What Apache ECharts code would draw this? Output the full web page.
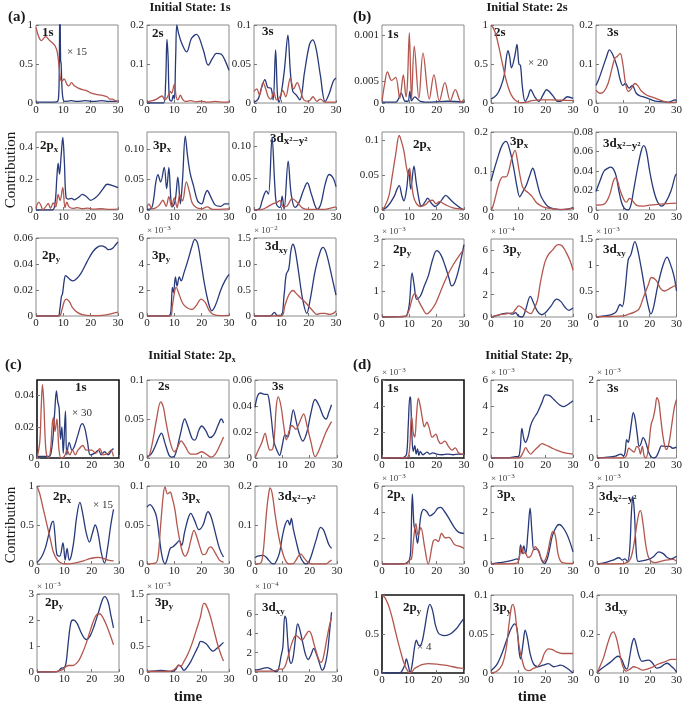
<!DOCTYPE html>
<html><head><meta charset="utf-8">
<script src="https://cdn.jsdelivr.net/npm/echarts@6/dist/echarts.min.js"></script>
<style>html,body{margin:0;padding:0;background:#fff}#c{width:685px;height:704px}</style>
</head><body><div id="c"></div><script>
// ---------------- DATA: [time, contribution] pairs ----------------
// Panel (a) Initial State: 1s
const a1_blue=[[0,0.01],[5,0.01],[7.5,0.015],[8.2,0.05],[8.5,0.4],[8.75,1.4],[9.0,0.55],[9.2,0.5],[9.5,0.2],[9.9,0.05],[10.5,0.02],[13,0.03],[15,0.02],[18,0.03],[21,0.02],[24,0.03],[27,0.02],[30,0.02]];
const a1_red=[[0,0.97],[1,0.85],[2,0.8],[3.5,0.85],[5,0.8],[6,0.77],[7,0.73],[7.8,0.65],[8.5,0.45],[9,0.3],[9.5,0.28],[10.3,0.31],[11.3,0.24],[12,0.22],[13,0.26],[14,0.22],[15.5,0.19],[17,0.17],[18.5,0.16],[20,0.13],[22,0.11],[24,0.1],[26,0.08],[27,0.05],[28,0.05],[29,0.03],[30,0.02]];
const a2_blue=[[0,0],[6,0],[6.8,0.05],[7.3,0.163],[7.7,0.12],[8.2,0.01],[9,0.005],[9.6,0.02],[10,0.01],[10.5,0.12],[10.9,0.2],[11.5,0.18],[12.7,0.153],[14.5,0.131],[16.3,0.166],[18.1,0.176],[20.6,0.136],[22.4,0.097],[24,0.115],[25.4,0.127],[27.2,0.125],[28.5,0.11],[30,0.084]];
const a2_red=[[0,0.003],[2,0.006],[3.5,0.01],[5.5,0.018],[6.5,0.008],[7.5,0.015],[8.5,0.03],[9,0.025],[10,0.048],[10.7,0.015],[11.3,0.008],[12.2,0.02],[13,0.01],[14,0.004],[16,0.006],[18,0.003],[20,0.005],[22,0.002],[25,0.004],[28,0.002],[30,0.003]];
const a3_blue=[[0,0.001],[1.5,0.005],[2.8,0.02],[4,0.03],[5,0.02],[6.2,0.019],[7,0.004],[7.9,0.068],[8.6,0.01],[9.2,0.001],[10.3,0.02],[11.2,0.045],[12.4,0.087],[13.3,0.04],[14.2,0.015],[15.5,0.01],[16.8,0.004],[18.5,0.04],[20.3,0.075],[21.5,0.081],[22.7,0.07],[24.3,0.035],[26,0.002],[27.5,0.012],[29,0.028],[30,0.032]];
const a3_red=[[0,0.015],[1,0.018],[2,0.01],[3.3,0.026],[4.3,0.018],[5.2,0.008],[6.2,0.005],[7.2,0.014],[8.3,0.004],[9.5,0.008],[10.5,0.016],[11.6,0.008],[13.3,0.032],[14.5,0.018],[15.8,0.026],[17,0.016],[18.2,0.004],[20,0.002],[21.6,0.008],[23,0.002],[24.3,0.005],[26,0.001],[30,0.001]];
const a4_blue=[[0,0],[6,0],[7,0.05],[7.6,0.2],[8.1,0.3],[8.6,0.23],[9.2,0.35],[9.8,0.465],[10.4,0.3],[11,0.08],[12,0.07],[13,0.075],[14,0.065],[15.5,0.08],[17,0.1],[18.5,0.085],[20,0.062],[21.5,0.075],[23,0.1],[24.5,0.135],[26,0.165],[27.5,0.16],[30,0.143]];
const a4_red=[[0,0.01],[1,0.05],[1.8,0.03],[2.5,0.002],[3.5,0.02],[4.5,0.042],[5.3,0.01],[6.3,0.045],[7.2,0.02],[8.1,0.1],[8.8,0.06],[9.8,0.145],[10.6,0.015],[11.3,0.05],[12.1,0.02],[13.5,0.01],[15,0.015],[17,0.008],[19,0.012],[21,0.005],[24,0.008],[27,0.004],[30,0.006]];
const a5_blue=[[0,0.001],[1.5,0.002],[2.5,0.02],[3.2,0.045],[4,0.058],[5,0.046],[6.3,0.07],[7.2,0.035],[8,0.07],[8.7,0.02],[9.3,0.005],[10.3,0.015],[11.3,0.054],[12.2,0.01],[13,0.05],[14,0.121],[14.8,0.09],[15.8,0.06],[17,0.04],[18.5,0.015],[20,0.01],[21.2,0.025],[22,0.032],[23.5,0.02],[25,0.008],[27,0.006],[28.5,0.01],[30,0.01]];
const a5_red=[[0,0.005],[0.7,0.01],[1.8,0.002],[3,0.003],[4.5,0.008],[5.8,0.016],[7,0.006],[8,0.022],[9,0.005],[10,0.02],[11,0.004],[12,0.025],[13,0.015],[14.4,0.046],[15.5,0.03],[16.5,0.012],[18,0.004],[20,0.002],[22,0.005],[24,0.001],[30,0.002]];
const a6_blue=[[0,0],[2,0.002],[3,0.015],[4.5,0.03],[5.3,0.025],[6.6,0.115],[7.6,0.04],[8.3,0.008],[9.5,0.004],[10.3,0.022],[11,0.001],[12.5,0.077],[13.6,0.025],[15,0.004],[16.5,0.012],[18,0.03],[19.5,0.043],[21,0.025],[23.2,0.001],[24.5,0.01],[26,0.04],[27.5,0.056],[29,0.05],[30,0.037]];
const a6_red=[[0,0],[3,0.001],[5,0.005],[7,0.01],[8.5,0.012],[9.5,0.015],[10.7,0.005],[12,0.006],[14,0.018],[15.8,0.012],[17.8,0.003],[20,0.001],[26,0.001],[28,0.003],[30,0.005]];
const a7_blue=[[0,0],[8,0],[8.7,0.005],[9.3,0.015],[9.7,0.017],[10.3,0.027],[10.8,0.031],[11.5,0.03],[12.5,0.028],[13.5,0.027],[15,0.029],[16.5,0.033],[18,0.039],[19.5,0.045],[21,0.05],[22.5,0.053],[23.8,0.054],[25.3,0.053],[26.5,0.051],[28,0.052],[29.2,0.055],[30,0.057]];
const a7_red=[[0,0],[8.5,0],[9.5,0.005],[10.3,0.011],[11.1,0.013],[12.2,0.011],[13.5,0.006],[15,0.003],[17,0.001],[20,0.0003],[23,0.0003],[26,0.001],[28,0.002],[30,0.003]];
const a8_blue=[[0,0],[8,0],[8.7,0.3],[9.3,2.2],[9.7,1.8],[10.4,3.0],[11,2.3],[11.8,3.0],[12.5,2.7],[13.5,3.3],[15,4.3],[16.5,5.4],[17.5,5.9],[18.5,5.6],[19.7,4.2],[21,2.5],[22.5,1.0],[23.7,0.4],[25,0.8],[27,2.0],[28.5,2.7],[30,3.2]];
const a8_red=[[0,0],[8.5,0],[9.3,0.8],[10.2,2.0],[10.7,2.2],[11.5,1.8],[13,1.0],[14.5,0.65],[16.5,0.5],[18,0.8],[19.8,1.3],[21.3,1.05],[22.8,0.4],[24.5,0.1],[27,0.03],[30,0.05]];
const a9_blue=[[0,0],[6,0],[7.5,0.07],[8.5,0.01],[10,0.01],[11,0.4],[11.8,0.8],[12.7,0.9],[13.5,1.25],[14.2,1.38],[15,1.28],[16.3,0.85],[17.7,0.35],[19.3,0.05],[20.5,0.3],[22.5,0.9],[24.3,1.25],[25.3,1.32],[26.5,1.2],[28.3,0.8],[30,0.4]];
const a9_red=[[0,0],[10,0],[11.3,0.2],[12.5,0.38],[13.5,0.47],[14.3,0.49],[15.5,0.43],[17,0.35],[18.5,0.28],[20,0.19],[21.5,0.1],[23,0.03],[24.5,0.05],[26,0.05],[27.5,0.03],[29,0.05],[30,0.1]];
// Panel (b) Initial State: 2s
const b1_blue=[[0,0.0002],[5,0.0002],[6,0.0009],[7,0.0023],[8.5,0.0004],[9.5,0.0004],[10.2,0.0027],[10.8,0.0005],[12,0.0014],[14,0.0004],[18,0.0002],[24,0.0004],[30,0.0002]];
const b1_red=[[0,0.0005],[1,0.0045],[2,0.0072],[3.5,0.0052],[5,0.0059],[6.5,0.0011],[7.8,0.0065],[8.8,0.0014],[9.3,0.0045],[10,0.0162],[10.8,0.0009],[11.8,0.0131],[13.5,0.0011],[15,0.0115],[17.3,0.0009],[19,0.0065],[21,0.0005],[23,0.0047],[25,0.0005],[26.8,0.0031],[29,0.0002],[30,0.0009]];
const b2_blue=[[0,0.05],[2,0.1],[3.5,0.2],[4.8,0.35],[5.5,0.55],[6.2,0.67],[6.8,0.6],[7.5,0.45],[8.7,0.6],[9.5,0.75],[10.2,0.5],[10.8,0.48],[11.5,0.2],[12.5,0.02],[13.5,0.08],[14.5,0.17],[16,0.08],[17.5,0.02],[19,0.1],[20.3,0.17],[22.5,0.1],[24.5,0.02],[26,0.03],[28,0.08],[30,0.06]];
const b2_red=[[0,1],[1,0.95],[2,0.85],[3,0.7],[4.2,0.5],[5.5,0.3],[6.8,0.15],[8,0.07],[9.5,0.02],[11,0.003],[13,0.01],[15,0.03],[18,0.04],[22,0.04],[26,0.035],[30,0.03]];
const b3_blue=[[0,0.045],[1,0.06],[2.5,0.09],[4,0.12],[5,0.136],[6.5,0.12],[8,0.09],[9,0.06],[10,0.045],[11,0.05],[12.3,0.038],[13.5,0.045],[15,0.025],[16.5,0.018],[18,0.015],[20,0.01],[22,0.005],[25,0.003],[27,0.002],[29.5,0.008],[30,0.005]];
const b3_red=[[0,0.033],[1.5,0.025],[3,0.03],[4.5,0.05],[6,0.09],[7,0.114],[8,0.12],[9,0.127],[10,0.1],[11,0.05],[12,0.03],[13,0.035],[14.5,0.05],[15.5,0.045],[17,0.03],[19,0.02],[21,0.015],[23,0.01],[25,0.005],[27,0.001],[30,0.002]];
const b4_blue=[[0,0],[2,0.005],[4.5,0.02],[5.5,0.03],[6.3,0.035],[7.3,0.02],[8,0.013],[9,0.03],[9.8,0.058],[10.5,0.03],[11.7,0.063],[12.5,0.04],[13.8,0.01],[14.5,0.006],[15.8,0.012],[16.7,0.017],[18,0.01],[19.5,0.005],[21,0.01],[22.5,0.018],[23.3,0.021],[25,0.015],[27,0.008],[29,0.002],[30,0]];
const b4_red=[[0,0],[1,0.005],[2.5,0.02],[3.8,0.05],[5,0.08],[6.3,0.107],[7,0.1],[8,0.085],[9,0.06],[9.7,0.05],[10.1,0.06],[10.6,0.045],[11.5,0.02],[12.5,0.01],[14,0.005],[16,0.008],[17,0.012],[18.5,0.014],[19.8,0.009],[21,0.012],[23,0.008],[26,0.003],[30,0.001]];
const b5_blue=[[0,0.074],[1,0.1],[2.5,0.135],[4,0.165],[5.5,0.176],[7,0.15],[8.5,0.1],[9.5,0.06],[10.5,0.034],[11.5,0.045],[13,0.065],[14,0.085],[15.3,0.107],[16.5,0.08],[18,0.04],[19.5,0.02],[21,0.008],[23,0.003],[26,0.001],[28,0.002],[30,0.006]];
const b5_red=[[0,0],[0.5,0.005],[1.5,0.03],[3,0.07],[4.3,0.085],[5.5,0.085],[6.5,0.1],[7.5,0.13],[8.8,0.153],[9.6,0.13],[10.3,0.1],[11.5,0.06],[12.6,0.05],[13.5,0.045],[15,0.035],[16.5,0.02],[18,0.012],[20,0.006],[23,0.003],[25,0.001],[28,0.002],[30,0.005]];
const b6_blue=[[0,0.019],[1.5,0.03],[3,0.04],[4.5,0.043],[5.5,0.044],[6.5,0.042],[7.5,0.035],[8.5,0.02],[9.5,0.008],[10.5,0.002],[12,0],[13,0.005],[14,0.02],[15.3,0.04],[16.8,0.06],[17.8,0.066],[18.8,0.06],[20,0.04],[21.5,0.02],[23,0.008],[24.5,0.004],[26,0.008],[28,0.02],[29.5,0.035],[30,0.037]];
const b6_red=[[0,0.005],[3,0.006],[5,0.015],[6.5,0.03],[7.3,0.033],[8,0.03],[9,0.02],[10.5,0.01],[11.3,0.008],[12.5,0.012],[13.5,0.01],[15,0.005],[17,0.004],[20,0.005],[24,0.006],[30,0.007]];
const b7_blue=[[0,0],[8,0.02],[9,0.05],[10,0.5],[11,1.7],[11.8,1.2],[12.7,0.68],[14,0.8],[15.5,1.2],[17,1.6],[18.5,2.2],[20,2.55],[21.5,2.4],[23,2.0],[24.5,1.5],[25.5,1.2],[26.5,1.3],[28,1.8],[30,2.78]];
const b7_red=[[0,0],[8,0.02],[9,0.05],[10,0.3],[11.3,0.8],[12,0.9],[13.5,0.6],[15,0.3],[16.3,0.12],[17.5,0.2],[19.5,0.5],[21.5,1.0],[23.5,1.5],[26,2.0],[28.5,2.4],[30,2.6]];
const b8_blue=[[0,0],[3,0.2],[6,0.35],[8,0.25],[9,0.4],[10,0.1],[11.4,0],[12.5,0.5],[14.4,1.85],[15.5,1.3],[17,0.5],[18.5,0.2],[20,0.4],[22,1.0],[24,1.6],[25.5,1.4],[27,0.9],[28.5,0.6],[30,0.8]];
const b8_red=[[0,0],[3,0.2],[6,0.3],[8,0.4],[9,0.7],[10.2,1.0],[11.5,0.8],[13,0.5],[14.5,0.3],[15.5,0.6],[17,1.5],[18,3.0],[19.7,4.9],[21,5.6],[22.5,6.0],[24.5,6.5],[26,6.4],[27.5,5.8],[29,5.0],[30,4.2]];
const b9_blue=[[0,0],[3,0.02],[6,0.05],[7.5,0.1],[9,0.24],[9.8,0.2],[10.8,0.5],[12,1.1],[13,1.2],[14.5,1.45],[15.5,1.3],[17,0.9],[18.5,0.45],[20,0.1],[20.5,0.06],[21.5,0.2],[23,0.6],[25,1.0],[26.5,1.15],[27.5,1.05],[29,0.8],[30,0.5]];
const b9_red=[[0,0],[5,0.01],[10,0.02],[12,0.05],[14.5,0.1],[16,0.15],[17.5,0.35],[19.5,0.62],[20.7,0.76],[22.5,0.7],[24,0.55],[25.5,0.5],[27.5,0.55],[30,0.62]];
// Panel (c) Initial State: 2px
const c1_blue=[[0,0.001],[4.5,0.001],[5.2,0.004],[5.8,0.012],[6.5,0.03],[7.1,0.043],[7.6,0.036],[8.1,0.032],[8.6,0.012],[9.1,0.02],[9.6,0.003],[10.4,0.03],[10.9,0.002],[11.8,0.01],[12.8,0.005],[13.8,0.008],[15,0.015],[16.5,0.022],[17.5,0.019],[18.5,0.01],[19.5,0.002],[21,0.003],[22.5,0.005],[23.5,0.002],[24.7,0.004],[26,0.002],[27.3,0.005],[28,0.006]];
const c1_red=[[0,0],[1,0.01],[1.6,0.035],[2,0.047],[2.5,0.035],[3,0.012],[3.5,0.002],[4.3,0],[5,0.006],[5.6,0.022],[6.1,0.026],[6.6,0.017],[7.3,0.025],[8,0.006],[8.8,0],[10,0.001],[11,0.005],[12,0.002],[13,0.005],[14,0.002],[15,0.005],[16.8,0.008],[18,0.005],[20,0.005],[21.5,0.003],[23,0.006],[24.2,0.002],[26,0.003],[27,0.005],[28,0.001]];
const c2_blue=[[0,0.001],[1.5,0.005],[3,0.015],[4.5,0.028],[5.3,0.032],[6.5,0.02],[8,0.004],[9,0.001],[10,0.002],[11,0.012],[12.3,0.032],[13.8,0.05],[15,0.04],[16.5,0.025],[17.5,0.023],[19,0.036],[20,0.041],[21.5,0.035],[23,0.026],[24.5,0.03],[26,0.042],[27.2,0.05],[28,0.045]];
const c2_red=[[0,0],[1,0.005],[2,0.02],[3.5,0.05],[5,0.072],[6,0.065],[7,0.045],[8.5,0.02],[10,0.008],[11,0.012],[12.5,0.022],[14,0.015],[16,0.005],[18,0.005],[20,0.008],[22,0.004],[23.5,0.001],[25,0.005],[26.5,0.015],[28,0.027]];
const c3_blue=[[0,0.039],[1,0.048],[2,0.05],[3.5,0.049],[4.5,0.049],[5.2,0.044],[6,0.03],[7,0.012],[8,0.006],[9,0.002],[10,0.01],[11,0.018],[12,0.016],[13,0.026],[14,0.037],[15,0.029],[16,0.02],[17.5,0.013],[19,0.02],[20.5,0.035],[22,0.045],[23.5,0.04],[25,0.032],[26,0.03],[27,0.035],[28,0.041]];
const c3_red=[[0,0],[1,0.005],[2.5,0.012],[3.7,0.019],[4.5,0.012],[5.5,0.006],[6.5,0.007],[7.2,0.02],[7.8,0.04],[8.5,0.047],[9.5,0.04],[10.5,0.025],[11.5,0.014],[12.5,0.021],[13.5,0.025],[15,0.022],[16,0.026],[17,0.031],[17.8,0.034],[19,0.025],[20.5,0.012],[22,0.001],[23,0.004],[24.5,0.012],[26,0.02],[28,0.028]];
const c4_blue=[[0,0.02],[1.5,0.08],[3,0.2],[4.3,0.38],[5.3,0.52],[5.9,0.55],[6.5,0.4],[7.3,0.12],[8.3,0.1],[9.5,0.27],[10.3,0.05],[11,0.2],[11.8,0.05],[12.5,0.1],[13.5,0.3],[14.5,0.6],[15.7,0.79],[16.7,0.65],[18,0.4],[19.2,0.28],[20.3,0.4],[21.3,0.5],[22.3,0.4],[23.5,0.15],[24.7,0.01],[25.8,0.2],[27,0.5],[28,0.7]];
const c4_red=[[0,1],[1,0.9],[2,0.75],[3,0.6],[4,0.45],[5,0.3],[6,0.15],[7.5,0.05],[9,0.01],[10.5,0],[12,0.002],[13.5,0.01],[15,0.02],[17,0.04],[19,0.065],[21,0.08],[22.5,0.085],[24,0.075],[26,0.05],[28,0.04]];
const c5_blue=[[0,0.073],[1,0.076],[2.5,0.07],[3.5,0.06],[4.3,0.04],[5.5,0.01],[6.6,0],[7.5,0.008],[8.5,0.02],[9.5,0.022],[10.7,0.026],[11.8,0.03],[12.7,0.024],[13.7,0.04],[15,0.058],[16,0.065],[17.5,0.055],[19,0.044],[20.5,0.05],[22.3,0.067],[23.5,0.06],[25,0.04],[26.5,0.02],[28,0.009]];
const c5_red=[[0,0],[3,0.001],[4,0.008],[5,0.05],[6,0.09],[6.6,0.099],[7.5,0.09],[8.5,0.092],[9.2,0.085],[10.2,0.07],[11,0.05],[12,0.03],[13,0.015],[14,0.01],[15,0.016],[16,0.03],[17.2,0.043],[18.2,0.035],[19.5,0.02],[20.5,0.012],[21.5,0.013],[22.5,0.02],[23.3,0.022],[25,0.014],[26.5,0.005],[28,0.002]];
const c6_blue=[[0,0.016],[1,0.02],[3,0.022],[4,0.018],[5,0.01],[6,0.002],[7,0],[8,0.01],[9,0.03],[10,0.07],[11,0.1],[12,0.112],[12.7,0.1],[13.3,0.117],[14,0.09],[15,0.06],[16.5,0.02],[18,0.002],[19,0],[20,0.01],[21,0.03],[22.5,0.065],[24,0.094],[25,0.088],[26,0.07],[27,0.05],[28,0.04]];
const c6_red=[[0,0],[2,0.002],[2.8,0.02],[3.5,0.07],[4.3,0.14],[5,0.18],[5.5,0.195],[6.3,0.18],[7.3,0.13],[8.3,0.085],[9.3,0.05],[10.5,0.02],[11.5,0.005],[12.5,0],[14,0.001],[15,0.01],[16.7,0.026],[18,0.015],[19.5,0.003],[20.5,0],[26,0],[27,0.005],[28,0.01]];
const c7_blue=[[0,0],[7,0.01],[8,0.05],[8.9,0.15],[10,0.17],[10.7,0.4],[11.5,1.2],[12.4,1.9],[13.2,2.0],[14.5,1.9],[16,1.55],[17.3,1.3],[18.1,1.25],[19.5,1.4],[21,1.8],[22.5,2.3],[24,2.8],[24.8,2.9],[26,2.7],[27,2.2],[28,1.7]];
const c7_red=[[0,0],[7,0.01],[8,0.05],[9.5,0.1],[10.5,0.2],[11.5,0.25],[13,0.25],[15,0.4],[16.5,0.7],[18,1.1],[19.5,1.6],[21,2.05],[22.4,2.24],[23.5,2.2],[25,1.9],[26.5,1.5],[28,1.05]];
const c8_blue=[[0,0.01],[3,0.02],[5,0.03],[7,0.02],[9,0.01],[10.5,0.05],[11.5,0.13],[12.5,0.1],[13.5,0.03],[14.5,0.08],[16,0.2],[17.5,0.36],[18.8,0.5],[19.6,0.59],[21.5,0.55],[23,0.45],[24,0.4],[25.5,0.45],[27,0.52],[28,0.57]];
const c8_red=[[0,0.01],[8,0.01],[9,0.02],[10,0.05],[11,0.1],[11.7,0.13],[12.5,0.12],[13.5,0.2],[15,0.35],[16.5,0.55],[18,0.8],[19.5,1.05],[20.8,1.32],[21.5,1.3],[23,1.1],[24.5,0.8],[26,0.5],[27.3,0.3],[28,0.21]];
const c9_blue=[[0,0.2],[2,0.3],[4.5,0.45],[5.5,0.35],[7,0.1],[8,0.05],[8.7,0.4],[9.5,1.6],[10.2,2.6],[10.9,5.8],[11.4,5.5],[11.9,3.5],[12.5,1.5],[13.2,0.9],[14,1.6],[15,4.0],[15.6,5.0],[16.3,4.5],[17.5,3.0],[18.5,1.8],[19.5,1.3],[20.5,1.8],[21.5,2.45],[22.3,2.0],[23.5,1.0],[24.6,0.2],[25.5,0.6],[26.5,2.0],[27.3,4.2],[28,6.2]];
const c9_red=[[0,0.1],[6,0.1],[8,0.2],[9,0.3],[10,0.3],[11,0.6],[12,1.5],[13.5,3.0],[15,3.8],[16.3,3.5],[17.2,3.3],[18.5,3.8],[19.7,4.25],[20.5,4.0],[21.5,3.0],[22.5,2.0],[23.5,1.2],[24.2,1.0],[25,1.5],[26,3.0],[27,4.5],[28,5.66]];
// Panel (d) Initial State: 2py
const d1_blue=[[0,0],[7,0.02],[8,0.05],[9,0.3],[9.6,2.5],[10.2,4.7],[10.5,4.5],[10.9,2.0],[11.4,0.5],[12,0.95],[12.5,0.3],[13,0.7],[13.5,0.2],[14,0.5],[15,0.25],[16.5,0.45],[17.5,0.3],[18.5,0.4],[20,0.3],[22,0.25],[24,0.3],[26,0.25],[28,0.3],[30,0.28]];
const d1_red=[[0,0],[9,0.02],[10,0.5],[10.6,2.8],[10.9,3.15],[11.4,2.0],[12,1.6],[12.6,3.2],[13.3,4.6],[14,4.0],[14.8,3.0],[15.5,2.4],[16.4,2.75],[17.3,2.3],[18.4,1.6],[19.7,1.83],[20.6,1.35],[21.5,1.1],[23,1.3],[24.3,0.9],[25.6,0.6],[26.8,0.78],[28,0.4],[29,0.3],[30,0.3]];
const d2_blue=[[0,0],[7,0.02],[9,0.1],[10,0.1],[10.7,0.8],[11.3,2.27],[12,1.5],[12.6,1.2],[13.5,1.6],[14.5,2.5],[15.5,3.0],[17,3.5],[18.5,4.2],[20,4.85],[21.5,4.8],[23,4.5],[25,4.1],[26.5,3.95],[28,4.1],[30,4.4]];
const d2_red=[[0,0],[10,0],[10.7,0.05],[11.7,0.4],[12.7,0.8],[13.6,0.5],[14.5,0.3],[15.5,0.5],[17,0.8],[18.7,1.1],[20,1.0],[22,0.8],[24,0.6],[26,0.45],[28,0.35],[30,0.3]];
const d3_blue=[[0,0],[4,0.02],[7,0.05],[9,0.1],[10,0.05],[10.6,0.15],[11.2,0.47],[11.8,0.4],[12.3,0.55],[13,0.9],[13.7,1.16],[14.4,1.0],[15.2,0.6],[15.9,0.3],[16.5,0.35],[17.4,0.52],[18.4,0.4],[19.5,0.15],[20.5,0.03],[21.5,0],[22.5,0.05],[23.5,0.2],[24.3,0.31],[26,0.3],[27.5,0.3],[28.5,0.25],[30,0.28]];
const d3_red=[[0,0],[10,0],[11,0.05],[12,0.25],[13,0.2],[14,0.15],[15,0.3],[15.8,0.25],[16.4,0.1],[17.1,0.3],[17.8,0.05],[18.5,0],[19.5,0.3],[20.4,0.85],[21.3,1.05],[22,1.3],[22.6,1.55],[23.3,1.45],[24,1.05],[24.8,0.6],[25.6,0.3],[26.3,0.22],[27.2,0.4],[28.2,0.85],[29.2,1.3],[30,1.5]];
const d4_blue=[[0,0],[8,0.02],[9,0.1],[10,0.3],[10.5,1.0],[11.1,5.4],[11.7,3.0],[12.3,2.5],[13,1.6],[13.6,2.6],[14.3,3.8],[15.3,4.2],[16.5,4.0],[17.5,3.7],[19,3.9],[20.5,4.3],[21.5,4.35],[23,4.0],[24.8,3.4],[26.5,2.8],[28,2.45],[30,2.35]];
const d4_red=[[0,0],[9,0.02],[10,0.3],[10.8,0.4],[11.6,2.0],[12.4,3.1],[13.2,2.2],[14.2,2.8],[15.6,1.3],[16.9,0],[18.7,1.73],[19.6,1.87],[20.6,1.73],[21.8,2.35],[23.2,2.0],[24.5,2.05],[26.5,1.5],[28.5,1.35],[30,1.2]];
const d5_blue=[[0,0],[3,0.05],[6,0.1],[8,0.15],[9.5,0.2],[10.1,0.15],[10.8,0.73],[11.4,0.4],[12,0.7],[12.7,0.4],[13.5,1.2],[14.3,2.15],[15,1.2],[15.7,0.55],[16.6,0.58],[17.5,0.5],[18.5,0.15],[19.6,0.02],[20.6,0.2],[21.5,0.6],[22.5,1.1],[24,1.45],[25,1.52],[26,1.45],[27.5,1.2],[28.7,0.9],[30,0.47]];
const d5_red=[[0,0],[9,0.02],[10,0.1],[11.2,0.67],[11.9,0.4],[12.5,0.45],[13.5,0.25],[14.5,0.3],[15.3,0.5],[16.2,0.67],[17.3,0.5],[18.4,0.2],[19.3,0.1],[20.5,0.35],[21.5,0.85],[22.3,1.2],[22.9,1.25],[23.7,1.0],[24.5,0.4],[25.5,0.1],[27,0.03],[30,0.02]];
const d6_blue=[[0,0],[3,0.05],[6,0.15],[8.3,0.24],[9.5,0.15],[10.5,0.2],[11.5,0.1],[12.3,0.5],[13,2.0],[13.5,2.6],[14.1,2.0],[14.8,0.5],[15.5,0.1],[17,0.12],[18.5,0.15],[20,0.2],[21.5,0.3],[23.3,0.47],[25,0.4],[26.5,0.25],[28,0.2],[30,0.3]];
const d6_red=[[0,0],[10,0.01],[11,0.05],[12,0.1],[13,0.3],[14,0.8],[15,1.5],[15.8,1.95],[16.4,2.05],[17.3,1.6],[18.3,0.8],[19.3,0.3],[20.5,0.1],[22,0.05],[24,0.1],[26,0.15],[28.5,0.18],[30,0.12]];
const d7_blue=[[0,0],[6,0.002],[7,0.01],[8.3,0.1],[8.9,0.18],[9.6,0.1],[10.3,0.005],[11,0.1],[12,0.35],[12.6,0.42],[13.5,0.35],[14.5,0.38],[15.5,0.55],[16.7,0.8],[17.5,0.88],[18.5,0.8],[19.5,0.62],[20.5,0.52],[21.5,0.49],[23,0.48],[25,0.5],[27,0.56],[28.5,0.63],[30,0.7]];
const d7_red=[[0,1],[1,0.97],[2,0.9],[3,0.8],[4,0.67],[5,0.52],[6,0.38],[7,0.25],[8,0.13],[9,0.05],[10,0.005],[11,0.02],[12,0.06],[13.5,0.09],[15,0.11],[17,0.12],[20,0.115],[23,0.1],[26,0.08],[28,0.065],[30,0.06]];
const d8_blue=[[0,0.003],[2,0.01],[4,0.025],[6,0.045],[7.5,0.058],[8.7,0.063],[9.6,0.055],[10.2,0.03],[10.8,0.018],[11.8,0.04],[12.5,0.055],[13.3,0.045],[14.3,0.025],[15.5,0.012],[17,0.008],[19,0.01],[21,0.012],[23,0.008],[25.5,0.01],[27,0.008],[29,0.003],[30,0]];
const d8_red=[[0,0],[2,0.002],[4,0.01],[5.5,0.03],[6.5,0.06],[7.5,0.085],[8,0.088],[8.7,0.08],[9.5,0.055],[10.5,0.03],[11.5,0.015],[12.5,0.005],[14,0.003],[15.5,0.006],[17,0.008],[18.5,0.015],[19.5,0.025],[21,0.031],[22.5,0.03],[24,0.027],[26,0.025],[30,0.025]];
const d9_blue=[[0,0],[1.5,0.02],[3.5,0.04],[5.5,0.06],[7,0.08],[8,0.086],[9.3,0.07],[10.5,0.03],[11.3,0.02],[12.3,0.08],[13.2,0.15],[14,0.177],[14.7,0.15],[15.8,0.09],[17,0.06],[18.5,0.065],[19.6,0.066],[21,0.05],[22.5,0.025],[24,0.03],[25.5,0.045],[26.5,0.05],[28,0.035],[29.2,0.02],[30,0.005]];
const d9_red=[[0,0],[1,0.03],[2.5,0.08],[4,0.15],[5.3,0.2],[6.2,0.211],[7.3,0.18],[8.3,0.12],[9.2,0.06],[10.2,0.02],[11,0.01],[12.5,0.02],[13.8,0.032],[15.5,0.025],[17,0.015],[19,0.02],[21,0.03],[23,0.045],[26,0.06],[28,0.07],[30,0.07]];

// Axis ranges and tick labels
const X_TICKS=[0,10,20,30];
const Y_MAX={a:[1,0.2,0.1,0.5,0.128,0.123,0.06,6,1.5], b:[0.018,1,0.2,0.112,0.2,0.08,3,7,1.5], c:[0.05,0.1,0.06,1,0.1,0.2,3,1.5,8.1], d:[6,6,2,6,3,3,1,0.1,0.4]};
const Y_TICKS={
 a:[[0,0.5,1],[0,0.1,0.2],[0,0.05,0.1],[0,0.2,0.4],[0,0.05,0.1],[0,0.05,0.1],[0,0.02,0.04,0.06],[0,2,4,6],[0,0.5,1,1.5]],
 b:[[0,0.005,0.0156],[0,0.5,1],[0,0.1,0.2],[0,0.05,0.1],[0,0.1,0.2],[0,0.02,0.04,0.06,0.08],[0,1,2,3],[0,2,4,6],[0,0.5,1,1.5]],
 c:[[0,0.02,0.04],[0,0.05,0.1],[0,0.02,0.04,0.06],[0,0.5,1],[0,0.05,0.1],[0,0.1,0.2],[0,1,2,3],[0,0.5,1,1.5],[0,2,4,6]],
 d:[[0,2,4,6],[0,2,4,6],[0,1,2],[0,2,4,6],[0,1,2,3],[0,1,2,3],[0,0.5,1],[0,0.05,0.1],[0,0.2,0.4]]};
const Y_TICK_LABELS={
 a:[['0','0.5','1'],['0','0.1','0.2'],['0','0.05','0.1'],['0','0.2','0.4'],['0','0.05','0.10'],['0','0.05','0.10'],['0','0.02','0.04','0.06'],['0','2','4','6'],['0','0.5','1.0','1.5']],
 b:[['0','0.005','0.001'],['0','0.5','1'],['0','0.1','0.2'],['0','0.05','0.1'],['0','0.1','0.2'],['0','0.02','0.04','0.06','0.08'],['0','1','2','3'],['0','2','4','6'],['0','0.5','1','1.5']],
 c:[['0','0.02','0.04'],['0','0.05','0.1'],['0','0.02','0.04','0.06'],['0','0.5','1'],['0','0.05','0.1'],['0','0.1','0.2'],['0','1','2','3'],['0','0.5','1','1.5'],['0','2','4','6']],
 d:[['0','2','4','6'],['0','2','4','6'],['0','1','2'],['0','2','4','6'],['0','1','2','3'],['0','1','2','3'],['0','0.5','1'],['0','0.05','0.1'],['0','0.2','0.4']]};
const EXPONENT={a:[null,null,null,null,null,null,null,'−3','−2'], b:[null,null,null,null,null,null,'−3','−4','−3'], c:[null,null,null,null,null,null,'−3','−3','−4'], d:['−3','−3','−3','−3','−3','−3',null,null,null]};
const SCALE_NOTE={a:['× 15',null,null,null,null,null,null,null,null], b:[null,'× 20',null,null,null,null,null,null,null], c:['× 30',null,null,'× 15',null,null,null,null,null], d:[null,null,null,null,null,null,'× 4',null,null]};
const ORBITAL_LABELS=['1s','2s','3s','2p{s|x}','3p{s|x}','3d{s2|x²−y²}','2p{s|y}','3p{s|y}','3d{s|xy}'];
const PANEL_NAMES=['a','b','c','d'];
const PANEL_TITLES={a:'Initial State: 1s', b:'Initial State: 2s', c:'Initial State: 2p{s|x}', d:'Initial State: 2p{s|y}'};
const SERIES={
 a:[[a1_blue,a1_red],[a2_blue,a2_red],[a3_blue,a3_red],[a4_blue,a4_red],[a5_blue,a5_red],[a6_blue,a6_red],[a7_blue,a7_red],[a8_blue,a8_red],[a9_blue,a9_red]],
 b:[[b1_blue,b1_red],[b2_blue,b2_red],[b3_blue,b3_red],[b4_blue,b4_red],[b5_blue,b5_red],[b6_blue,b6_red],[b7_blue,b7_red],[b8_blue,b8_red],[b9_blue,b9_red]],
 c:[[c1_blue,c1_red],[c2_blue,c2_red],[c3_blue,c3_red],[c4_blue,c4_red],[c5_blue,c5_red],[c6_blue,c6_red],[c7_blue,c7_red],[c8_blue,c8_red],[c9_blue,c9_red]],
 d:[[d1_blue,d1_red],[d2_blue,d2_red],[d3_blue,d3_red],[d4_blue,d4_red],[d5_blue,d5_red],[d6_blue,d6_red],[d7_blue,d7_red],[d8_blue,d8_red],[d9_blue,d9_red]]};

// ---------------- LAYOUT & STYLE ----------------
const COL_LEFT={a:[36,147,254], b:[382,491,596], c:[37,147,255], d:[382,491,597]};
const ROW_TOP={a:[25,132,238], b:[25,132,239], c:[380,486,594], d:[380,486,595]};
const BOX_W=82, BOX_H=78;
const LABEL_OFF={a:[[6,8],[5,9],[8,7],[4,14],[6,14],[16,7],[6,18],[5,18],[11,9]],
 b:[[5,10],[3,8],[11,8],[31,13],[19,10],[7,12],[11,11],[12,11],[7,11]],
 c:[[38,8],[11,7],[17,7],[16,11],[35,11],[23,11],[8,9],[8,9],[7,14]],
 d:[[5,9],[6,9],[10,9],[5,9],[6,9],[2,11],[21,13],[2,13],[8,13]]};
const NOTE_OFF={a:[[31,27]], b:[null,[37,38]], c:[[35,33],null,null,[56,19]], d:[null,null,null,null,null,null,[35,52]]};
const STRONG_BOX={a:[],b:[],c:[0],d:[0,6]};
const TITLE_POS={a:[190,8], b:[527,8], c:[192,356], d:[529,356]};
const TAG_POS={a:[8,17], b:[353,17], c:[5,365], d:[353,365]};
const FONT='"Liberation Serif","Times New Roman",serif';
const BLUE='#283a7a', RED='#b3564e', BOX='#8a8a8a';

const grids=[], xAxes=[], yAxes=[], series=[], graphics=[];
const text=(x,y,t,o)=>graphics.push(Object.assign({type:'text',x:x,y:y,silent:true,style:Object.assign({text:t,fontFamily:FONT,fill:'#1a1a1a',align:'left',verticalAlign:'middle'},o||{})},{}));

PANEL_NAMES.forEach(p=>{
  for(let k=0;k<9;k++){
    const i=grids.length, r=Math.floor(k/3), col=k%3;
    const left=COL_LEFT[p][col], top=ROW_TOP[p][r];
    const strong=STRONG_BOX[p].indexOf(k)>=0;
    grids.push({left:left,top:top,width:BOX_W,height:BOX_H,show:true,borderColor:strong?'#111':BOX,borderWidth:strong?1.6:1,backgroundColor:'rgba(0,0,0,0)'});
    xAxes.push({gridIndex:i,type:'value',min:0,max:30,interval:10,
      axisLine:{show:false},splitLine:{show:false},
      axisTick:{show:true,inside:true,length:3,lineStyle:{color:'#777'}},
      axisLabel:{fontFamily:FONT,fontSize:11,color:'#222',margin:2,showMinLabel:true,showMaxLabel:true}});
    const ticks=Y_TICKS[p][k], labs=Y_TICK_LABELS[p][k];
    yAxes.push({gridIndex:i,type:'value',min:0,max:Y_MAX[p][k],
      axisLine:{show:false},splitLine:{show:false},
      axisTick:{show:true,inside:true,length:3,customValues:ticks,lineStyle:{color:'#777'}},
      axisLabel:{customValues:ticks,fontFamily:FONT,fontSize:11,color:'#222',margin:3,
        formatter:(v)=>{const j=ticks.findIndex(t=>Math.abs(t-v)<1e-9);return j>=0?labs[j]:'';}}});
    const pair=SERIES[p][k];
    [[pair[0],BLUE],[pair[1],RED]].forEach(([d,c])=>{
      series.push({type:'line',xAxisIndex:i,yAxisIndex:i,data:d,showSymbol:false,symbol:'none',smooth:0.35,clip:true,silent:true,
        lineStyle:{width:1.3,color:c},itemStyle:{color:c}});
    });
    // subplot label
    const lo=LABEL_OFF[p][k];
    text(left+lo[0],top+lo[1],ORBITAL_LABELS[k],{fontSize:13,fontWeight:'bold',lineHeight:16,
      rich:{s:{fontSize:9,fontWeight:'bold',fontFamily:FONT,verticalAlign:'bottom',lineHeight:9,fill:'#1a1a1a'},
            s2:{fontSize:11,fontWeight:'bold',fontFamily:FONT,verticalAlign:'bottom',lineHeight:11,fill:'#1a1a1a'}}});
    // exponent
    const ex=EXPONENT[p][k];
    if(ex){ text(left,top-7,'× 10{e|'+ex+'}',{fontSize:9,fill:'#444',lineHeight:12,
      rich:{e:{fontSize:7,fontFamily:FONT,fill:'#444',verticalAlign:'top',lineHeight:7}}}); }
    const note=SCALE_NOTE[p][k];
    if(note){ const no=NOTE_OFF[p][k]; text(left+no[0],top+no[1],note,{fontSize:11,fill:'#333'}); }
  }
  text(TAG_POS[p][0],TAG_POS[p][1],'('+p+')',{fontSize:15,fontWeight:'bold'});
  text(TITLE_POS[p][0],TITLE_POS[p][1],PANEL_TITLES[p],{fontSize:12.5,fontWeight:'bold',align:'center',lineHeight:15,
    rich:{s:{fontSize:8,fontWeight:'bold',fontFamily:FONT,verticalAlign:'bottom',lineHeight:8,fill:'#1a1a1a'}}});
});
graphics.push({type:'text',x:11,y:170,rotation:Math.PI/2,silent:true,style:{text:'Contribution',fontFamily:FONT,fontSize:15,fill:'#1a1a1a',align:'center',verticalAlign:'middle'}});
graphics.push({type:'text',x:11,y:525,rotation:Math.PI/2,silent:true,style:{text:'Contribution',fontFamily:FONT,fontSize:15,fill:'#1a1a1a',align:'center',verticalAlign:'middle'}});
text(188,697,'time',{fontSize:15,fontWeight:'bold',align:'center'});
text(532,697,'time',{fontSize:15,fontWeight:'bold',align:'center'});

const chart=echarts.init(document.getElementById('c'),null,{renderer:'canvas'});
chart.setOption({animation:false,backgroundColor:'#fff',grid:grids,xAxis:xAxes,yAxis:yAxes,series:series,graphic:{elements:graphics}});
</script></body></html>
